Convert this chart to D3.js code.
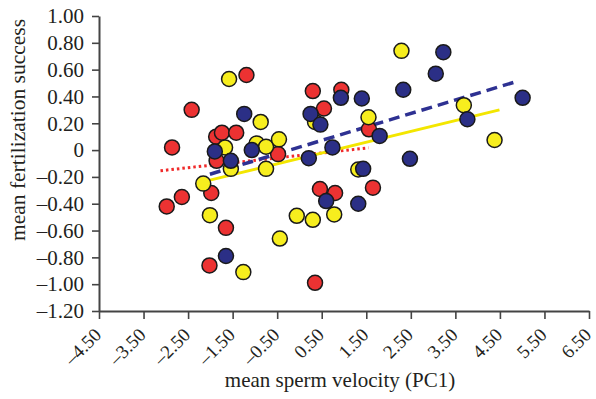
<!DOCTYPE html>
<html>
<head>
<meta charset="utf-8">
<script src="https://cdn.jsdelivr.net/npm/d3@7"></script>
<style>
  body { margin: 0; background: #fff; }
  text { font-family: "Liberation Serif", "DejaVu Serif", serif; fill: #231f20; }
</style>
</head>
<body>
<svg id="chart" width="596" height="399"></svg>
<script>
// values: [PC1, fertilization success]
const redPoints = [
  [-2.86, 0.02], [-2.42, 0.30], [-2.98, -0.42], [-2.64, -0.35], [-1.19, 0.56],
  [-1.87, 0.10], [-1.74, 0.13], [-1.42, 0.13], [-1.86, -0.08], [-1.98, -0.32],
  [-1.65, -0.58], [-2.02, -0.86], [-0.48, -0.03], [0.30, 0.44], [0.94, 0.45],
  [0.55, 0.31], [1.56, 0.155], [0.46, -0.29], [0.80, -0.32], [1.65, -0.28],
  [0.35, -0.99]
];
const yellowPoints = [
  [-1.58, 0.53], [-0.87, 0.21], [-1.67, 0.02], [-0.96, 0.05], [-0.75, 0.025],
  [-0.46, 0.08], [-1.54, -0.14], [-0.75, -0.14], [-2.16, -0.25], [-2.01, -0.485],
  [-1.26, -0.91], [-0.44, -0.66], [-0.06, -0.49], [0.30, -0.52], [0.78, -0.48],
  [0.35, 0.21], [1.55, 0.245], [1.32, -0.145], [2.29, 0.74], [3.69, 0.335],
  [4.38, 0.075]
];
const bluePoints = [
  [-1.24, 0.27], [-1.90, -0.01], [-1.07, 0.00], [-1.54, -0.08], [-1.65, -0.79],
  [0.25, 0.27], [0.47, 0.19], [0.21, -0.06], [0.74, 0.02], [0.93, 0.39],
  [1.40, 0.385], [1.43, -0.14], [1.80, 0.106], [0.60, -0.38], [1.32, -0.40],
  [2.48, -0.065], [2.33, 0.45], [3.06, 0.57], [3.23, 0.73], [3.77, 0.23],
  [5.01, 0.39]
];
// fitted lines, end points
const redFit = [[-3.12, -0.154], [1.55, 0.017]];
const yellowFit = [[-2.01, -0.224], [4.49, 0.30]];
const blueFit = [[-2.01, -0.18], [4.93, 0.517]];

const xTicks = [-4.5, -3.5, -2.5, -1.5, -0.5, 0.5, 1.5, 2.5, 3.5, 4.5, 5.5, 6.5];
const yTicks = [-1.2, -1.0, -0.8, -0.6, -0.4, -0.2, 0, 0.2, 0.4, 0.6, 0.8, 1.0];

const svg = d3.select("#chart");

const x = d3.scaleLinear().domain([-4.5, 6.5]).range([99, 589]);
const y = d3.scaleLinear().domain([-1.2, 1.0]).range([311, 16]);

const fmt = v => {
  if (Math.abs(v) < 1e-9) return "0";
  const s = Math.abs(v).toFixed(2);
  return v < 0 ? "\u2013" + s : s;
};

// axes
const axisColor = "#444";
const yAxis = svg.append("g")
  .attr("transform", "translate(99,0)")
  .call(d3.axisLeft(y).tickValues(yTicks).tickFormat(fmt).tickSize(7).tickSizeOuter(0));
yAxis.select(".domain").attr("stroke", axisColor).attr("stroke-width", 2);
yAxis.selectAll(".tick line").attr("stroke", axisColor).attr("stroke-width", 1.6);
yAxis.selectAll(".tick text")
  .attr("x", -15)
  .attr("font-size", 21)
  .attr("font-family", "Liberation Serif")
  .attr("fill", "#231f20");

const xAxis = svg.append("g")
  .attr("transform", "translate(0,311)")
  .call(d3.axisBottom(x).tickValues(xTicks).tickFormat(fmt).tickSize(8).tickSizeOuter(0));
xAxis.select(".domain").attr("stroke", axisColor).attr("stroke-width", 2);
xAxis.selectAll(".tick line").attr("stroke", axisColor).attr("stroke-width", 1.6);
xAxis.selectAll(".tick text")
  .attr("y", 0)
  .attr("dy", 0)
  .attr("text-anchor", "end")
  .attr("transform", "translate(3,25) rotate(-45)")
  .attr("font-size", 19)
  .attr("font-family", "Liberation Serif")
  .attr("fill", "#231f20");

svg.append("text")
  .attr("x", 340)
  .attr("y", 387)
  .attr("text-anchor", "middle")
  .attr("font-size", 21)
  .text("mean sperm velocity (PC1)");

svg.append("text")
  .attr("transform", "translate(25,130) rotate(-90)")
  .attr("text-anchor", "middle")
  .attr("font-size", 21.5)
  .text("mean fertilization success");

// fit lines
const line = d3.line().x(d => x(d[0])).y(d => y(d[1]));

svg.append("path")
  .datum(redFit)
  .attr("d", line)
  .attr("fill", "none")
  .attr("stroke", "#f02a2a")
  .attr("stroke-width", 3)
  .attr("stroke-dasharray", "2.5 3");

svg.append("path")
  .datum(yellowFit)
  .attr("d", line)
  .attr("fill", "none")
  .attr("stroke", "#f3e600")
  .attr("stroke-width", 3);

svg.append("path")
  .datum(blueFit)
  .attr("d", line)
  .attr("fill", "none")
  .attr("stroke", "#2e3192")
  .attr("stroke-width", 3.5)
  .attr("stroke-dasharray", "11 6");

// points
const groups = [
  { data: redPoints, color: "#ec3232" },
  { data: yellowPoints, color: "#f7ee1e" },
  { data: bluePoints, color: "#2b2f86" }
];

groups.forEach(g => {
  svg.append("g")
    .selectAll("circle")
    .data(g.data)
    .join("circle")
      .attr("cx", d => x(d[0]))
      .attr("cy", d => y(d[1]))
      .attr("r", 7.5)
      .attr("fill", g.color)
      .attr("stroke", "#1a1a1a")
      .attr("stroke-width", 1.5);
});
</script>
</body>
</html>
